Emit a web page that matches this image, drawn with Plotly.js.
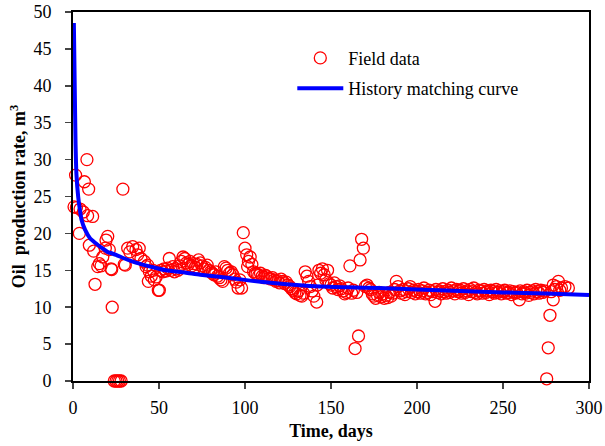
<!DOCTYPE html>
<html>
<head>
<meta charset="utf-8">
<script src="https://cdn.plot.ly/plotly-3.0.1.min.js"></script>
<style>html,body{margin:0;padding:0;background:#fff;}#chart{width:605px;height:446px;}</style>
</head>
<body>
<div id="chart"></div>
<script>
// Field data (days, m3)
const fieldDays = [
 0.6,1.5,2,3.7,4.1,6,6.6,8.1,8.5,9.1,9.5,11.4,12,12.8,14.4,15.3,16.3,17.3,18.8,19.2,
 20.2,21.1,22.1,22.5,22.8,24,25,26,27,28,29,29.8,30.4,31.8,33,34.7,36.6,37.6,38.5,39.5,
 41.5,42.5,43.4,43.8,44.4,45.5,46.5,47.3,48.3,49.6,50.2,51,52.2,53,54,55,56,57,58,59,
 60,61,62,63,64,65,66,67,68,69,70,71,72,73,74,75,76,77,78,79,
 80,81,82,83,84,85,86,87,88,89,90,91,92,93,94,95,96,97,98,99,
 100,101,101.5,102,103,104,105,106,107,108,109,110,111,112,113,114,115,116,117,118,
 119,120,121,122,123,124,125,126,127,128,129,130,131,132,133,134,135,136,137,138,
 139,140,141.7,142,143,144,145,146,147,148,149,150,151,152,153,154,155,156,157,158,
 159,160,161,162,163,164,165,166,166.9,167.8,168.8,170,171,172,173,174,175,176,177,178,
 179,180,181,182,183,184,185,186,187,188,189,190,191,192,193,194,195,196,197,198,
 199,200,201,202,203,204,205,206,207,208,209,210.5,211,212,213,214,215,216,217,218,
 219,220,221,222,223,224,225,226,227,228,229,230,231,232,233,234,235,236,237,238,
 239,240,241,242,243,244,245,246,247,248,249,250,251,252,253,254,255,256,257,258,
 259.5,260,261,262,263,264,265,266,267,268,269,270,271,272,273,274,275.4,276.3,277.3,278,
 279.2,279.2,280,281,282.2,283,284,286,288
];
const fieldRate = [
 23.6,27.9,23.5,20.0,23.3,22.9,27.0,30.0,22.4,26.0,18.4,22.3,17.6,13.1,15.5,15.9,15.6,16.8,18.0,19.1,
 19.6,17.8,15.2,15.1,10.0,0,0,0,0,0,26.0,15.8,15.7,18.0,17.5,18.2,17.8,17.1,18.0,16.6,
 16.2,15.5,15.7,13.5,14.8,14.2,15.0,13.7,14.1,12.3,12.3,15.0,14.8,15.2,14.9,15.3,16.6,15.0,15.5,14.8,
 15.2,15.0,15.6,16.2,16.8,16.6,16.0,15.8,16.2,15.6,15.9,15.4,15.8,16.4,16.0,15.6,15.2,15.4,15.7,15.0,
 14.8,14.6,14.4,14.8,14.2,14.0,13.7,13.5,15.5,15.3,15.0,14.6,14.8,14.4,13.8,13.4,12.6,13.7,12.6,20.1,
 18.0,17.1,15.5,16.2,16.8,15.8,14.8,14.6,14.5,14.3,14.6,14.2,14.0,14.3,14.1,13.9,13.8,14.0,13.7,13.5,
 13.6,13.3,13.8,13.5,13.2,13.4,13.0,12.8,12.5,12.3,12.0,11.8,12.2,11.6,11.5,11.9,14.8,14.2,13.5,12.8,
 12.2,11.5,10.7,13.0,15.0,14.6,15.2,14.4,13.7,15.0,13.2,13.0,12.6,13.3,12.8,12.4,12.9,12.5,12.2,11.8,
 12.0,12.6,15.6,11.9,12.3,4.4,12.0,6.1,16.4,19.2,18.0,12.8,13.0,12.6,12.4,11.8,11.5,11.2,11.6,12.0,
 11.4,11.8,11.2,11.6,11.3,12.0,11.5,11.9,12.4,13.5,12.8,12.2,11.9,12.4,11.7,12.1,12.5,12.8,12.0,12.3,
 11.8,12.1,12.4,11.9,12.2,12.6,11.8,12.0,12.3,11.7,12.1,10.8,12.4,12.0,12.2,11.8,12.5,12.1,11.9,12.3,
 12.0,12.6,12.2,11.8,12.4,12.1,12.3,11.9,12.5,12.0,12.2,11.7,12.4,12.1,12.6,12.0,11.8,12.3,12.2,11.9,
 12.4,12.0,12.2,11.7,12.3,12.1,11.9,12.4,12.0,12.2,11.8,12.1,12.3,11.9,12.0,12.2,11.7,12.1,11.9,12.0,
 11.0,12.2,11.8,12.1,11.9,12.3,11.6,12.0,12.2,11.8,12.4,12.1,11.9,12.3,12.0,12.2,0.3,4.5,8.9,12.1,
 11.0,13.0,12.4,12.8,13.5,12.3,12.6,12.8,12.6
];
// History matching curve (days, m3)
const curveDays = [0.5,1,1.5,2,3,4,5,7,10,13,17,20,25,30,37,45,54,65,74,90,103,115,130,144,160,178,200,225,250,275,300];
const curveRate = [48.5,40,32,28,25,23.2,21.8,20.5,19.3,18.7,18.0,17.5,17.1,16.6,16.0,15.5,15.0,14.7,14.4,14.0,13.6,13.3,13.0,12.8,12.7,12.6,12.4,12.2,12.0,11.85,11.65];

const xTicks = [0,50,100,150,200,250,300];
const yTicks = [0,5,10,15,20,25,30,35,40,45,50];

const serif = 'Liberation Serif, Times New Roman, serif';

const traces = [
 {x: fieldDays, y: fieldRate, type:'scatter', mode:'markers', name:'Field data', legendgroup:'a',
  marker:{symbol:'circle-open', size:12, color:'#ff0000', line:{width:1.3, color:'#ff0000'}}, cliponaxis:false},
 {x: curveDays, y: curveRate, type:'scatter', mode:'lines', name:'History matching curve', legendgroup:'b',
  line:{color:'#0000ff', width:4, shape:'spline', smoothing:0.6}}
];

const layout = {
 width:605, height:446,
 margin:{l:73, r:16, t:12, b:65},
 paper_bgcolor:'#fff', plot_bgcolor:'#fff',
 font:{family:serif, size:18, color:'#000'},
 showlegend:true,
 legend:{x:0.425, y:0.925, xanchor:'left', yanchor:'top', bgcolor:'rgba(0,0,0,0)', tracegroupgap:4,
   traceorder:'grouped', font:{family:serif, size:18, color:'#000'}, itemwidth:46},
 xaxis:{range:[0,300], tickvals:xTicks, ticktext:xTicks.map(String), ticks:'outside', ticklen:6, tickwidth:1.5,
   showline:true, linewidth:2, linecolor:'#000', mirror:true, showgrid:false, zeroline:false,
   tickfont:{family:serif, size:18}, ticklabelstandoff:3,
   title:{text:'<b>Time, days</b>', font:{family:serif, size:18}, standoff:8}},
 yaxis:{range:[0,50], tickvals:yTicks, ticktext:yTicks.map(String), ticks:'outside', ticklen:6, tickwidth:1.5,
   showline:true, linewidth:2, linecolor:'#000', mirror:true, showgrid:false, zeroline:false,
   tickfont:{family:serif, size:18}, ticklabelstandoff:10,
   title:{text:'<b>Oil  production rate, m<sup>3</sup></b>', font:{family:serif, size:18}, standoff:3}}
};

Plotly.newPlot('chart', traces, layout, {displayModeBar:false, staticPlot:true});
</script>
</body>
</html>
